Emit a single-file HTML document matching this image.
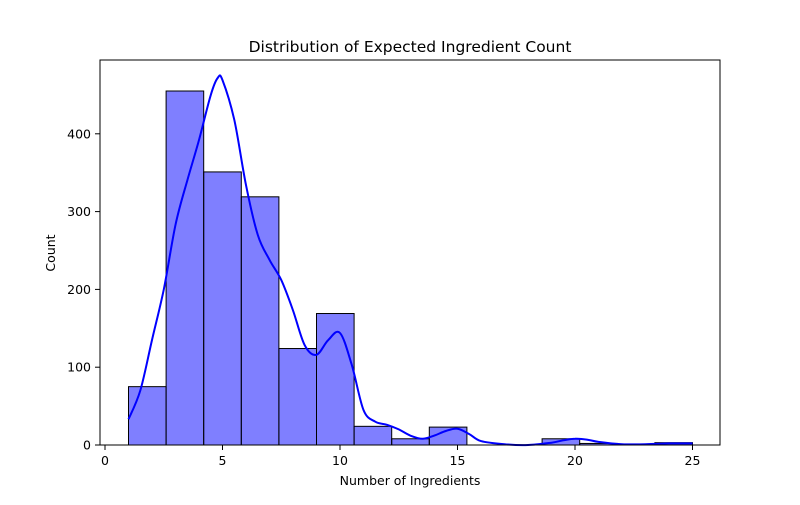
<!DOCTYPE html>
<html><head><meta charset="utf-8"><style>
body{margin:0;background:#fff;}
svg{font-family:"DejaVu Sans","Liberation Sans",sans-serif;}
</style></head><body>
<svg id="chart" width="800" height="500" viewBox="0 0 800 500" xmlns="http://www.w3.org/2000/svg">
<rect width="800" height="500" fill="#fff"/>
<text x="410" y="52" font-size="15.5" text-anchor="middle">Distribution of Expected Ingredient Count</text>
<g id="bars"></g>
<path id="kde" fill="none" stroke="#0000ff" stroke-width="2"/>
<rect x="100" y="60" width="620" height="385" fill="none" stroke="#000" stroke-width="1"/>
<g id="axes"></g>
<text x="410" y="485" font-size="12.5" text-anchor="middle">Number of Ingredients</text>
<text transform="translate(55,253) rotate(-90)" font-size="12.5" text-anchor="middle">Count</text>
</svg>
<script>
const binEdges=[1,2.6,4.2,5.8,7.4,9,10.6,12.2,13.8,15.4,17,18.6,20.2,21.8,23.4,25];
const counts=[75,455,351,319,124,169,24,8,23,0,0,8,2,0,3];
const kdeX=[1,1.5,2,2.5,3,3.5,4,4.5,4.8,5,5.5,6,6.5,7,7.5,8,8.5,9,9.5,10,10.5,11,11.5,12,12.5,13,13.5,14,14.5,15,15.5,16,17,18,19,19.5,20,20.5,21,22,23,24,25];
const kdeY=[33,70,135,200,283,340,392,450,472,469,418,334,270,238,212,173,128,116,135,144,103,45,30,26,20,12,8,12,18,21,14,5,1,0,3,6,8,7,4,1,1,2,2];
const xTicks=[0,5,10,15,20,25];
const yTicks=[0,100,200,300,400];
const NS="http://www.w3.org/2000/svg";
const sx=v=>105+v*23.5;
const sy=v=>445-v*0.778;
const bars=document.getElementById('bars');
counts.forEach((c,i)=>{
  if(c<=0)return;
  const r=document.createElementNS(NS,'rect');
  r.setAttribute('x',sx(binEdges[i]));r.setAttribute('width',sx(binEdges[i+1])-sx(binEdges[i]));
  r.setAttribute('y',sy(c));r.setAttribute('height',sy(0)-sy(c));
  r.setAttribute('fill','rgba(0,0,255,0.5)');r.setAttribute('stroke','#000');r.setAttribute('stroke-width','1');
  
  
  bars.appendChild(r);
});
const pts=kdeX.map((x,i)=>[sx(x),sy(kdeY[i])]);
let d='M'+pts[0][0].toFixed(1)+','+pts[0][1].toFixed(1);
for(let i=0;i<pts.length-1;i++){
  const p0=pts[Math.max(0,i-1)],p1=pts[i],p2=pts[i+1],p3=pts[Math.min(pts.length-1,i+2)];
  const c1=[p1[0]+(p2[0]-p0[0])/6,p1[1]+(p2[1]-p0[1])/6];
  const c2=[p2[0]-(p3[0]-p1[0])/6,p2[1]-(p3[1]-p1[1])/6];
  d+=' C'+c1[0].toFixed(1)+','+c1[1].toFixed(1)+' '+c2[0].toFixed(1)+','+c2[1].toFixed(1)+' '+p2[0].toFixed(1)+','+p2[1].toFixed(1);
}
document.getElementById('kde').setAttribute('d',d);
const ax=document.getElementById('axes');
xTicks.forEach(t=>{
  const l=document.createElementNS(NS,'line');
  l.setAttribute('x1',sx(t));l.setAttribute('x2',sx(t));l.setAttribute('y1',445);l.setAttribute('y2',450);l.setAttribute('stroke','#000');
  
  
  ax.appendChild(l);
  const tx=document.createElementNS(NS,'text');
  tx.setAttribute('x',sx(t));tx.setAttribute('y',465);tx.setAttribute('font-size','12.5');tx.setAttribute('text-anchor','middle');tx.textContent=t;
  
  
  ax.appendChild(tx);
});
yTicks.forEach(t=>{
  const l=document.createElementNS(NS,'line');
  l.setAttribute('x1',95);l.setAttribute('x2',100);l.setAttribute('y1',sy(t));l.setAttribute('y2',sy(t));l.setAttribute('stroke','#000');
  
  
  ax.appendChild(l);
  const tx=document.createElementNS(NS,'text');
  tx.setAttribute('x',91);tx.setAttribute('y',sy(t)+4.5);tx.setAttribute('font-size','12.5');tx.setAttribute('text-anchor','end');tx.textContent=t;
  
  
  ax.appendChild(tx);
});
</script>
</body></html>
